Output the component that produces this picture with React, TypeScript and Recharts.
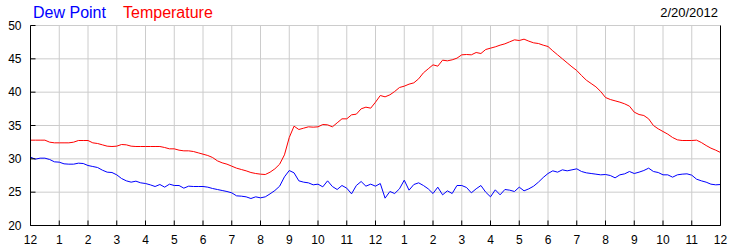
import { LineChart, Line, XAxis, YAxis, CartesianGrid } from "recharts";

// 10-minute readings from midnight to midnight (145 points)
const temperature = [
  32.8, 32.8, 32.8, 32.8, 32.5, 32.4,
  32.4, 32.4, 32.4, 32.5, 32.75, 32.75,
  32.75, 32.4, 32.3, 32.1, 31.9, 31.85,
  31.9, 32.15, 32.1, 31.9, 31.85, 31.85,
  31.85, 31.85, 31.85, 31.85, 31.7, 31.5,
  31.5, 31.3, 31.2, 31.2, 31.1, 30.9,
  30.7, 30.5, 30.2, 29.7, 29.4, 29.2,
  28.9, 28.6, 28.4, 28.2, 27.95, 27.8,
  27.7, 27.65, 28.0, 28.5, 29.2, 30.6,
  33.2, 34.9, 34.4, 34.6, 34.8, 34.75,
  34.8, 35.15, 35.1, 34.8, 35.4, 36.0,
  36.0, 36.6, 36.7, 37.5, 37.75, 37.6,
  38.5, 39.5, 39.3, 39.6, 40.1, 40.7,
  40.9, 41.2, 41.4, 42.0, 42.9, 43.5,
  44.1, 43.9, 44.8, 44.7, 44.85, 45.1,
  45.6, 45.65, 45.6, 45.95, 45.8, 46.4,
  46.6, 46.8, 47.05, 47.25, 47.55, 47.85,
  47.75, 47.95, 47.65, 47.4, 47.3, 47.05,
  46.85, 46.2, 45.6, 45.0, 44.4, 43.8,
  43.25, 42.5, 41.8, 41.3, 40.8, 40.1,
  39.2, 38.9, 38.7, 38.5, 38.25, 37.9,
  37.0, 36.65, 36.5, 36.0, 35.0, 34.5,
  34.1, 33.7, 33.2, 32.85, 32.75, 32.75,
  32.75, 32.8, 32.45, 32.0, 31.6, 31.3,
  30.95,
];

const dewPoint = [
  30.25, 29.95, 30.1, 30.1, 29.9, 29.55,
  29.5, 29.25, 29.2, 29.2, 29.35, 29.3,
  29.0, 28.85, 28.7, 28.3, 28.0, 27.95,
  27.6, 27.05, 26.7, 26.5, 26.65, 26.4,
  26.3, 26.1, 25.85, 26.15, 25.75, 26.2,
  26.0, 26.0, 25.6, 25.9, 25.85, 25.85,
  25.85, 25.75, 25.55, 25.4, 25.25, 25.1,
  24.9, 24.45, 24.4, 24.3, 24.05, 24.3,
  24.15, 24.3, 24.75, 25.25, 25.9, 27.3,
  28.25, 27.9, 26.7, 26.5, 26.4, 26.1,
  26.2, 25.8, 26.7, 25.85, 25.4, 26.0,
  25.6, 24.75, 26.0, 26.6, 25.9, 26.2,
  25.9, 26.3, 24.1, 25.1, 24.8, 25.5,
  26.8, 25.3, 26.15, 26.4, 26.0, 25.5,
  24.8, 25.75, 24.6, 25.2, 24.8, 26.0,
  26.0, 25.7, 24.9, 25.5, 26.0, 25.0,
  24.3, 25.35, 24.6, 25.4, 25.3, 25.1,
  25.75, 25.2, 25.5, 25.9, 26.5, 27.2,
  27.8, 28.2, 28.0, 28.35, 28.2, 28.35,
  28.5, 28.1, 27.9, 27.8, 27.7, 27.6,
  27.65, 27.5, 27.15, 27.6, 27.75, 28.1,
  27.8, 28.0, 28.25, 28.6, 28.1, 27.95,
  27.6, 27.6, 27.25, 27.6, 27.7, 27.75,
  27.55, 26.95, 26.7, 26.5, 26.2, 26.1,
  26.15,
];

const hourLabels = [
  "12", "1", "2", "3", "4", "5", "6", "7", "8", "9", "10", "11",
  "12", "1", "2", "3", "4", "5", "6", "7", "8", "9", "10", "11", "12",
];
const hourTicks = hourLabels.map((_, i) => i);
const tempTicks = [20, 25, 30, 35, 40, 45, 50];

const data = temperature.map((t, i) => ({
  hour: i / 6,
  temperature: t,
  dewPoint: dewPoint[i],
}));

const font = "'Liberation Sans', Arial, sans-serif";
const tickStyle = { fontSize: 12, fill: "#000", fontFamily: font };

export default function App() {
  return (
    <div style={{ position: "absolute", left: 0, top: 0, width: 750, height: 250, background: "#fff" }}>
      <LineChart
        width={750}
        height={250}
        data={data}
        margin={{ top: 25.5, right: 0, bottom: 0, left: 0.5 }}
      >
        <CartesianGrid xAxisId="bottom" yAxisId="left" stroke="#cccccc" ticks={hourTicks} />
        <XAxis
          xAxisId="bottom"
          dataKey="hour"
          type="number"
          domain={[0, 24]}
          ticks={hourTicks}
          interval={0}
          tickFormatter={(v: number) => hourLabels[v]}
          height={24.5}
          tickSize={-5}
          tickMargin={14.5}
          axisLine={{ stroke: "#000" }}
          tickLine={{ stroke: "#000" }}
          tick={tickStyle}
        />
        <XAxis
          xAxisId="top"
          orientation="top"
          dataKey="hour"
          type="number"
          domain={[0, 24]}
          ticks={hourTicks}
          interval={0}
          height={0}
          tickSize={-5}
          tick={false}
          axisLine={{ stroke: "#000" }}
          tickLine={{ stroke: "#000" }}
        />
        <YAxis
          yAxisId="left"
          type="number"
          domain={[20, 50]}
          ticks={tempTicks}
          interval={0}
          width={30}
          tickSize={-5}
          tickMargin={14}
          axisLine={{ stroke: "#000" }}
          tickLine={{ stroke: "#000" }}
          tick={tickStyle}
        />
        <YAxis
          yAxisId="right"
          orientation="right"
          type="number"
          domain={[20, 50]}
          ticks={tempTicks}
          interval={0}
          width={29.5}
          tickSize={-5}
          tickMargin={12}
          axisLine={{ stroke: "#000" }}
          tickLine={{ stroke: "#000" }}
          tick={{ ...tickStyle, textAnchor: "start" }}
        />
        <Line
          xAxisId="bottom"
          yAxisId="left"
          type="linear"
          dataKey="temperature"
          stroke="#ff0000"
          strokeWidth={1}
          dot={false}
          isAnimationActive={false}
        />
        <Line
          xAxisId="bottom"
          yAxisId="left"
          type="linear"
          dataKey="dewPoint"
          stroke="#0000ff"
          strokeWidth={1}
          dot={false}
          isAnimationActive={false}
        />
      </LineChart>
      <svg
        width={750}
        height={25}
        style={{ position: "absolute", left: 0, top: 0, pointerEvents: "none" }}
      >
        <text x={33} y={18} fontSize={16} fill="#0000ff" fontFamily={font}>Dew Point</text>
        <text x={123} y={18} fontSize={16} fill="#ff0000" fontFamily={font}>Temperature</text>
        <text x={718} y={17} fontSize={13} fill="#000" fontFamily={font} textAnchor="end">2/20/2012</text>
      </svg>
    </div>
  );
}
